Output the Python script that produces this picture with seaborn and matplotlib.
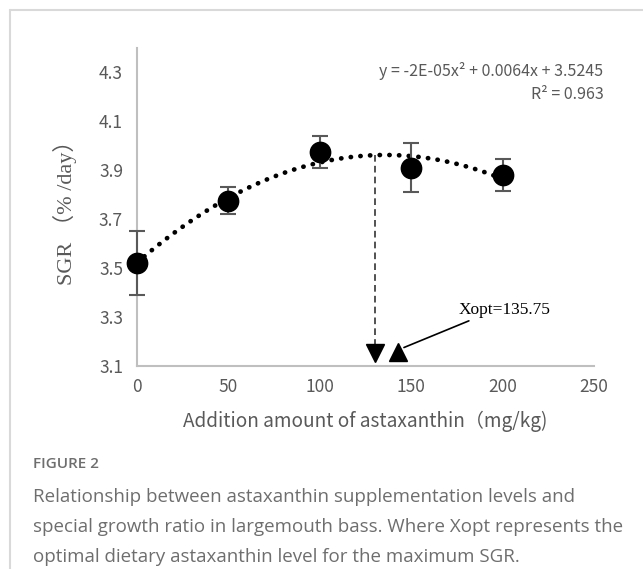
import numpy as np
import pandas as pd
import matplotlib
matplotlib.use("Agg")
import matplotlib.pyplot as plt
import seaborn as sns

# dados
dose = [0, 50, 100, 150, 200]
sgr = [3.52, 3.775, 3.975, 3.91, 3.88]
sgr_err = [0.13, 0.055, 0.065, 0.10, 0.065]
x_ticks = [0, 50, 100, 150, 200, 250]
y_ticks = [3.1, 3.3, 3.5, 3.7, 3.9, 4.1, 4.3]
x_opt_line = 130
x_opt_mark = 143
x_opt_label = "Xopt=135.75"

df = pd.DataFrame({"dose": dose, "sgr": sgr, "err": sgr_err})

sns.set_style("white")
plt.rcParams["font.family"] = ["Noto Sans CJK SC", "DejaVu Sans"]
plt.rcParams["font.weight"] = "light"

fig = plt.figure(figsize=(6.43, 5.69), dpi=100)
ax = fig.add_axes([0.213, 0.357, 0.711, 0.559])

# linha de tendência polinomial (ordem 2)
sns.regplot(data=df, x="dose", y="sgr", order=2, ci=None, scatter=False, truncate=True,
            line_kws=dict(color="black", lw=3.4, linestyle=(0, (0.05, 2.0)),
                          dash_capstyle="round"), ax=ax)

ax.errorbar(df["dose"], df["sgr"], yerr=df["err"], fmt="none", ecolor="#595959",
            elinewidth=1.5, capsize=6, capthick=1.5, zorder=3, clip_on=False)
sns.scatterplot(data=df, x="dose", y="sgr", s=210, color="black", edgecolor="black",
                zorder=4, clip_on=False, ax=ax)

# linha tracejada até o ótimo
coef = np.polyfit(df["dose"], df["sgr"], 2)
y_top = np.polyval(coef, x_opt_line)
ax.plot([x_opt_line, x_opt_line], [y_top, 3.17], color="#333333", lw=1.2,
        linestyle=(0, (4, 2.5)))
ax.plot([x_opt_line], [3.153], marker="v", color="black", ms=13, linestyle="none")
ax.plot([x_opt_mark], [3.158], marker="^", color="black", ms=13, linestyle="none")
ax.plot([181.5, 146], [3.284, 3.175], color="black", lw=1.2)
ax.text(201, 3.33, x_opt_label, fontsize=12.5, family="Liberation Serif", weight="normal",
        color="black", ha="center", va="center")

ax.set_xlim(0, 250)
ax.set_ylim(3.1, 4.4)
ax.set_xticks(x_ticks)
ax.set_yticks(y_ticks)
ax.set_yticklabels([f"{v:.1f}" for v in y_ticks])
ax.tick_params(axis="both", colors="#bfbfbf", labelcolor="#595959", labelsize=12.5,
               length=4, width=1, direction="in")
ax.tick_params(axis="y", pad=10)
ax.tick_params(axis="x", pad=9)
sns.despine(ax=ax)
for s in ["left", "bottom"]:
    ax.spines[s].set_color("#bfbfbf")
    ax.spines[s].set_linewidth(1.5)

ax.set_xlabel("Addition amount of astaxanthin（mg/kg)", fontsize=13.7, color="#595959",
              labelpad=10)
ax.set_ylabel("SGR （% /day）", fontsize=16, color="#595959",
              family=["Liberation Serif", "Noto Sans CJK SC"], weight="normal", labelpad=16)

ax.text(1.02, 0.926, "y = -2E-05x² + 0.0064x + 3.5245", transform=ax.transAxes,
        ha="right", va="center", fontsize=11.5, color="#595959")
ax.text(1.02, 0.854, "R² = 0.963", transform=ax.transAxes,
        ha="right", va="center", fontsize=11.5, color="#595959")

# moldura e legenda da figura
fig.add_artist(plt.Line2D([10 / 643, 1], [1 - 10 / 569, 1 - 10 / 569], color="#d9d9d9", lw=1.5,
                          transform=fig.transFigure))
fig.add_artist(plt.Line2D([10 / 643, 10 / 643], [0, 1 - 10 / 569], color="#d9d9d9", lw=1.5,
                          transform=fig.transFigure))
fig.text(33 / 643, 1 - 464 / 569, "FIGURE 2", fontsize=11, color="#6e6e6e", family="Open Sans",
         weight="semibold", va="center")
caption = ["Relationship between astaxanthin supplementation levels and",
           "special growth ratio in largemouth bass. Where Xopt represents the",
           "optimal dietary astaxanthin level for the maximum SGR."]
for i, line in enumerate(caption):
    fig.text(33 / 643, 1 - (497 + 30 * i) / 569, line, fontsize=13.5, color="#6e6e6e",
             family="Open Sans", weight="normal", va="center")

fig.savefig("out.png", dpi=100)
